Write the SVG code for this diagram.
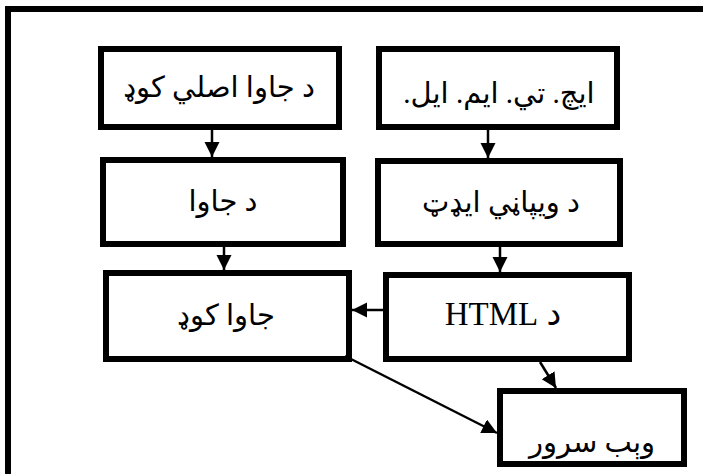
<svg xmlns="http://www.w3.org/2000/svg" width="703" height="474" viewBox="0 0 703 474">
<defs>
<marker id="ah" markerUnits="userSpaceOnUse" markerWidth="16" markerHeight="16" refX="15" refY="7.5" orient="auto">
<path d="M0,0 L15,7.5 L0,15 z" fill="#000"/>
</marker>
<style>
.box{fill:#fff;stroke:#000;stroke-width:6}
.t{font-family:"Liberation Serif","DejaVu Sans",serif;font-size:29px;fill:#000;text-anchor:middle}
.h{font-size:33px}
.c{stroke:#000;stroke-width:2.5;fill:none;marker-end:url(#ah)}
</style>
</defs>
<rect x="0" y="0" width="703" height="474" fill="#fff"/>
<rect x="8" y="9" width="720" height="500" fill="none" stroke="#000" stroke-width="6"/>
<g id="n1"><rect class="box" x="101" y="49" width="238" height="78"/><text class="t" x="219" y="97" direction="rtl">د جاوا اصلي کوډ</text></g>
<g id="n2"><rect class="box" x="379" y="49" width="238" height="78"/><text class="t" x="499" y="103" direction="rtl">ایچ. تي. ایم. ایل.</text></g>
<g id="n3"><rect class="box" x="103" y="160" width="240" height="84"/><text class="t" x="223" y="211" direction="rtl">د جاوا</text></g>
<g id="n4"><rect class="box" x="378" y="161" width="242" height="83"/><text class="t" x="501" y="212" direction="rtl">د ویپاڼي ایډټ</text></g>
<g id="n5"><rect class="box" x="106" y="273" width="243" height="86"/><text class="t" x="226" y="325" direction="rtl">جاوا کوډ</text></g>
<g id="n6"><rect class="box" x="386" y="275" width="243" height="84"/><text class="t h" x="503" y="325" direction="rtl">د HTML</text></g>
<g id="n7"><rect class="box" x="500" y="391" width="184" height="73"/><text class="t" x="592" y="452" direction="rtl">وېب سرور</text></g>
<g id="connectors">
<line class="c" x1="212" y1="130" x2="212" y2="157"/>
<line class="c" x1="488" y1="130" x2="488" y2="158"/>
<line class="c" x1="224" y1="247" x2="224" y2="270"/>
<line class="c" x1="500" y1="247" x2="500" y2="272"/>
<line class="c" x1="383" y1="310" x2="352" y2="310"/>
<line class="c" x1="540" y1="362" x2="556" y2="388"/>
<line class="c" x1="345" y1="356" x2="497" y2="433"/>
</g>
</svg>
